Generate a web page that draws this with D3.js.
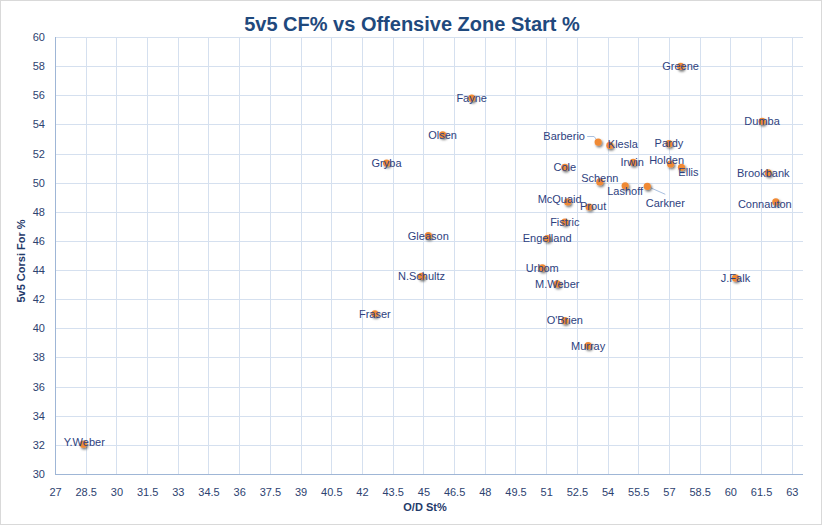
<!DOCTYPE html>
<html>
<head>
<meta charset="utf-8">
<script src="https://cdn.jsdelivr.net/npm/d3@7/dist/d3.min.js"></script>
<style>
  html, body { margin: 0; padding: 0; background: #fff; }
  svg { display: block; font-family: "Liberation Sans", Arial, sans-serif; }
</style>
</head>
<body>
<svg id="chart" width="824" height="526"></svg>
<script>
// ---- data ----
const players = ["Y.Weber","Fraser","N.Schultz","Gleason","Gryba","Olsen","Fayne","Engelland","Fistric","Urbom","M.Weber","O'Brien","Murray","McQuaid","Prout","Cole","Schenn","Barberio","Klesla","Lashoff","Carkner","Irwin","Pardy","Holden","Ellis","Greene","J.Falk","Dumba","Brookbank","Connauton"];
const ozStart = [28.38,42.63,44.91,45.24,43.20,45.94,47.36,51.05,51.91,50.81,51.54,51.91,53.05,52.05,53.10,51.91,53.62,53.54,54.11,54.86,55.94,55.25,57.00,57.08,57.61,57.57,60.25,61.55,61.85,62.22];
const corsiFor = [32.05,41.00,43.57,46.36,51.35,53.29,55.81,46.16,47.30,44.15,43.05,40.53,38.81,48.68,48.33,51.05,50.05,52.79,52.56,49.79,49.75,51.39,52.68,51.28,51.05,57.98,43.46,54.21,50.67,48.68];
const xTicks = d3.range(27, 63.01, 1.5);
const yTicks = d3.range(30, 60.01, 2);
const chartTitle = "5v5 CF% vs Offensive Zone Start %";
const xTitle = "O/D St%";
const yTitle = "5v5 Corsi For %";

// label layout tweaks (pixels), default is centred on the point
const labelOffsets = {
  "Y.Weber": [1, -2],
  "Barberio": [-34, -5.5, true],
  "Klesla": [13, -1],
  "McQuaid": [-8, -3],
  "Prout": [4, -1],
  "Schenn": [0, -4],
  "Lashoff": [0, 5],
  "Carkner": [18, 17, true],
  "Irwin": [-1, 0],
  "Holden": [-4, -4],
  "Ellis": [7, 5],
  "Connauton": [-11, 2],
  "Brookbank": [-5, 0]
};

// ---- layout ----
const W = 824, H = 526;
const pLeft = 55, pRight = 802, pTop = 37, pBottom = 474;
const svg = d3.select("#chart");

const x = d3.scaleLinear().domain([27, 63.5]).range([pLeft, pRight]);
const y = d3.scaleLinear().domain([30, 60]).range([pBottom, pTop]);

const defs = svg.append("defs");
const f = defs.append("filter").attr("id", "shadow").attr("x", "-100%").attr("y", "-100%").attr("width", "300%").attr("height", "300%");
f.append("feDropShadow").attr("dx", 1.2).attr("dy", 1.6).attr("stdDeviation", 1.1).attr("flood-color", "#000").attr("flood-opacity", 0.55);

// chart border
svg.append("rect").attr("x", 0.5).attr("y", 0.5).attr("width", W - 3).attr("height", H - 2)
  .attr("fill", "#fff").attr("stroke", "#d9d9d9");

// gridlines
const gridColor = "#d5e0ef";
svg.append("g").selectAll("line").data(xTicks).join("line")
  .attr("x1", d => Math.round(x(d)) + 0.5).attr("x2", d => Math.round(x(d)) + 0.5)
  .attr("y1", pTop).attr("y2", pBottom).attr("stroke", gridColor);
svg.append("g").selectAll("line").data(yTicks).join("line")
  .attr("x1", pLeft).attr("x2", pRight + 1)
  .attr("y1", d => Math.round(y(d)) + 0.5).attr("y2", d => Math.round(y(d)) + 0.5)
  .attr("stroke", gridColor);

// axis lines
svg.append("line").attr("x1", pLeft + 0.5).attr("x2", pLeft + 0.5).attr("y1", pTop).attr("y2", pBottom + 0.5).attr("stroke", "#9fb6d6");
svg.append("line").attr("x1", pLeft).attr("x2", pRight + 1).attr("y1", pBottom + 0.5).attr("y2", pBottom + 0.5).attr("stroke", "#9fb6d6");

// axes tick labels via d3 axes
const tickColor = "#2d4270";
const xAxis = svg.append("g").attr("transform", `translate(0,${pBottom})`)
  .call(d3.axisBottom(x).tickValues(xTicks).tickSize(0).tickPadding(14).tickFormat(d3.format("")));
const yAxis = svg.append("g").attr("transform", `translate(${pLeft},0)`)
  .call(d3.axisLeft(y).tickValues(yTicks).tickSize(0).tickPadding(10).tickFormat(d3.format("")));
[xAxis, yAxis].forEach(a => {
  a.select(".domain").remove();
  a.selectAll("text").attr("fill", tickColor).style("font-size", "11px").style("font-family", "'Liberation Sans', Arial, sans-serif");
});

// title
svg.append("text").attr("x", 412).attr("y", 31).attr("text-anchor", "middle")
  .attr("fill", "#1f497d").style("font-size", "20px").style("font-weight", "bold").text(chartTitle);

// axis titles
svg.append("text").attr("x", 425).attr("y", 511).attr("text-anchor", "middle")
  .attr("fill", "#1f3a6a").style("font-size", "11px").style("font-weight", "bold").text(xTitle);
svg.append("text").attr("transform", "translate(25,261) rotate(-90)").attr("text-anchor", "middle")
  .attr("fill", "#1f3a6a").style("font-size", "11px").style("font-weight", "bold").text(yTitle);

const pts = players.map((p, i) => ({ name: p, x: ozStart[i], y: corsiFor[i] }));

// leader lines
const leaders = svg.append("g");
pts.forEach(d => {
  const o = labelOffsets[d.name];
  if (o && o[2]) {
    const px = x(d.x), py = y(d.y);
    let pathD;
    if (o[0] < 0) {
      const lx = px + o[0] + 23, ly = py + o[1];
      pathD = `M${lx},${ly} L${lx + 7},${ly} L${px},${py}`;
    } else {
      pathD = `M${px},${py} L${px + 18},${py + 8}`;
    }
    leaders.append("path").attr("d", pathD).attr("fill", "none").attr("stroke", "#a9c0e0").attr("stroke-width", 1);
  }
});

// points
svg.append("g").selectAll("circle").data(pts).join("circle")
  .attr("cx", d => x(d.x)).attr("cy", d => y(d.y)).attr("r", 3.6)
  .attr("fill", "#f08a36").attr("filter", "url(#shadow)");

// labels
svg.append("g").selectAll("text").data(pts).join("text")
  .attr("x", d => x(d.x) + ((labelOffsets[d.name] || [0, 0])[0]))
  .attr("y", d => y(d.y) + ((labelOffsets[d.name] || [0, 0])[1]))
  .attr("dy", "0.35em").attr("text-anchor", "middle")
  .attr("fill", "#2e3f80").style("font-size", "11px")
  .text(d => d.name);
</script>
</body>
</html>
